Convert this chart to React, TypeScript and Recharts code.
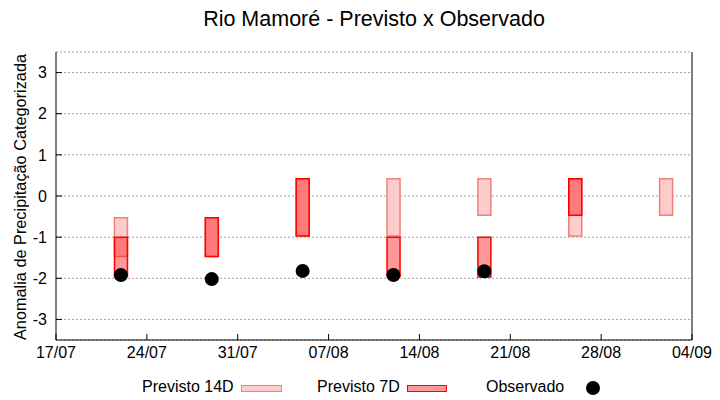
import React from 'react';
import { ComposedChart, Bar, Scatter, XAxis, YAxis, CartesianGrid } from 'recharts';

// x em dias contados a partir de 17/07
const X_TICKS = [0, 7, 14, 21, 28, 35, 42, 49];
const X_LABELS = ['17/07', '24/07', '31/07', '07/08', '14/08', '21/08', '28/08', '04/09'];
const Y_TICKS = [-3, -2, -1, 0, 1, 2, 3];

// 22/07, 29/07, 05/08, 12/08, 19/08, 26/08, 02/09
const DAYS = [5, 12, 19, 26, 33, 40, 47];
const PREV_14D: ([number, number] | null)[] = [
  [-1.47, -0.53],
  [-1.47, -0.53],
  [-0.97, 0.42],
  [-0.97, 0.42],
  [-0.47, 0.42],
  [-0.97, 0.42],
  [-0.47, 0.42],
];
const PREV_7D: ([number, number] | null)[] = [
  [-1.95, -1.0],
  [-1.47, -0.53],
  [-0.97, 0.42],
  [-1.95, -1.0],
  [-1.97, -1.0],
  [-0.47, 0.42],
  null,
];

const OBS_DAYS = [5, 12, 19, 26, 33];
const OBS = [-1.92, -2.02, -1.82, -1.92, -1.83];

const FONT = '"Liberation Sans", Arial, sans-serif';
const C14 = '#ffcccc';
const C14_LINE = '#f08078';
const C7_LINE = '#ff0000';

const rows = DAYS.map((day, i) => ({
  day,
  d14: PREV_14D[i] ?? undefined,
  d7: PREV_7D[i] ?? undefined,
}));

const obsRows = OBS_DAYS.map((day, i) => ({ day, obs: OBS[i] }));

const Dot = (props: any) => <circle cx={props.cx} cy={props.cy} r={7} fill="#000" />;

const tickStyle = { fill: '#000', fontSize: 16, fontFamily: FONT };

export default function App() {
  return (
    <div style={{ position: 'absolute', left: 0, top: 0, width: 720, height: 400, background: '#fff', fontFamily: FONT }}>
      <ComposedChart
        width={720}
        height={400}
        data={rows}
        margin={{ top: 52, right: 0, bottom: 30, left: 0 }}
      >
        <CartesianGrid vertical={false} stroke="#a0a0a0" strokeDasharray="2 2" />
        <XAxis
          xAxisId="a"
          dataKey="day"
          type="number"
          domain={[0, 49]}
          ticks={X_TICKS}
          tickFormatter={(v: number) => X_LABELS[X_TICKS.indexOf(v)] ?? ''}
          height={30}
          tickSize={-6}
          tickMargin={13}
          tick={tickStyle}
          axisLine={{ stroke: '#000' }}
          tickLine={{ stroke: '#000' }}
          interval={0}
        />
        <XAxis
          xAxisId="t"
          dataKey="day"
          type="number"
          orientation="top"
          domain={[0, 49]}
          ticks={X_TICKS}
          tickFormatter={() => ''}
          height={0}
          tickSize={-6}
          axisLine={{ stroke: '#000' }}
          tickLine={{ stroke: '#000' }}
          interval={0}
        />
        <YAxis
          type="number"
          domain={[-3.5, 3.5]}
          ticks={Y_TICKS}
          width={56}
          tickSize={-6}
          tickMargin={15}
          tick={tickStyle}
          axisLine={{ stroke: '#000' }}
          tickLine={{ stroke: '#000' }}
          interval={0}
        />
        <YAxis
          yAxisId="r"
          orientation="right"
          type="number"
          domain={[-3.5, 3.5]}
          ticks={Y_TICKS}
          width={28}
          tickSize={-6}
          tickFormatter={() => ''}
          axisLine={{ stroke: '#000' }}
          tickLine={{ stroke: '#000' }}
          interval={0}
        />
        <Bar
          xAxisId="a"
          dataKey="d14"
          barSize={13}
          fill={C14}
          stroke={C14_LINE}
          strokeWidth={1.5}
          isAnimationActive={false}
        />
        <Bar
          xAxisId="t"
          dataKey="d7"
          barSize={13}
          fill="#ff0000"
          fillOpacity={0.4}
          stroke={C7_LINE}
          strokeWidth={1.5}
          isAnimationActive={false}
        />
        <Scatter
          xAxisId="a"
          data={obsRows}
          dataKey="obs"
          shape={Dot}
          isAnimationActive={false}
        />
      </ComposedChart>

      <div style={{ position: 'absolute', left: 56, width: 636, top: 9, textAlign: 'center', fontSize: 21.5, lineHeight: '21px', whiteSpace: 'nowrap' }}>
        Rio Mamoré - Previsto x Observado
      </div>
      <div
        style={{
          position: 'absolute',
          left: 20,
          top: 197,
          transform: 'translate(-50%, -50%) rotate(-90deg)',
          fontSize: 16.3,
          lineHeight: '16px',
          whiteSpace: 'nowrap',
        }}
      >
        Anomalia de Precipitação Categorizada
      </div>

      <div style={{ position: 'absolute', left: 142, top: 379, fontSize: 16, lineHeight: '16px', whiteSpace: 'nowrap' }}>Previsto 14D</div>
      <div style={{ position: 'absolute', left: 241, top: 385, width: 39, height: 5, background: C14, border: `1px solid ${C14_LINE}` }} />
      <div style={{ position: 'absolute', left: 317, top: 379, fontSize: 16, lineHeight: '16px', whiteSpace: 'nowrap' }}>Previsto 7D</div>
      <div style={{ position: 'absolute', left: 407, top: 385, width: 38, height: 5, background: '#ff9999', border: `1px solid ${C7_LINE}` }} />
      <div style={{ position: 'absolute', left: 486, top: 379, fontSize: 16, lineHeight: '16px', whiteSpace: 'nowrap' }}>Observado</div>
      <div style={{ position: 'absolute', left: 586, top: 381, width: 14, height: 14, borderRadius: 7, background: '#000' }} />
    </div>
  );
}
